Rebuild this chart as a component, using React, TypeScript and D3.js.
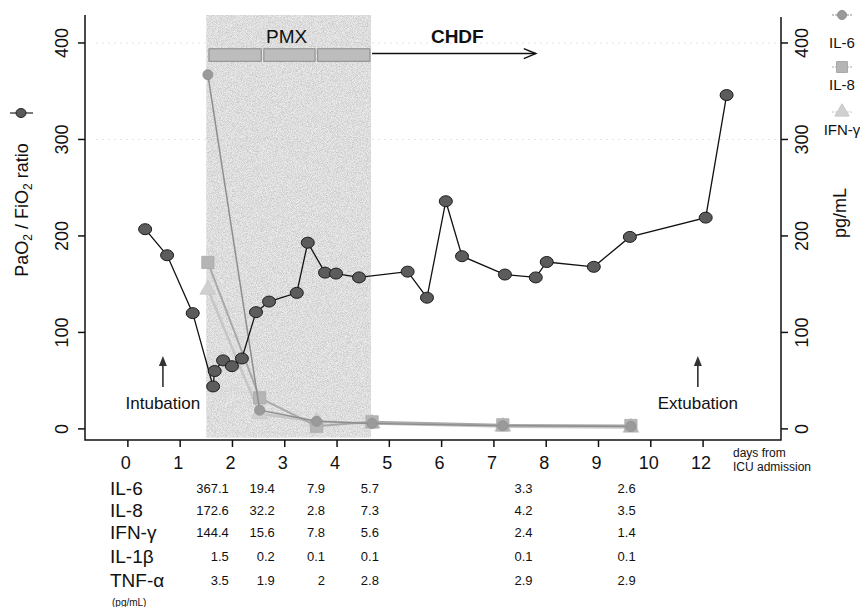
import React, { useEffect, useRef } from 'react';
import * as d3 from 'd3';

// PaO2/FiO2 ratio, days from ICU admission
const pfDays = [0.33, 0.75, 1.24, 1.63, 1.66, 1.82, 1.99, 2.18, 2.45, 2.7, 3.23, 3.44, 3.77, 3.98, 4.42,
  5.35, 5.72, 6.08, 6.39, 7.21, 7.8, 8.01, 8.91, 9.6, 11.05, 11.45];
const pfValues = [207, 180, 120, 44, 60, 71, 65, 73, 121, 132, 141, 193, 162, 161, 157,
  163, 136, 236, 179, 160, 157, 173, 168, 199, 219, 346];

// cytokines (pg/mL)
const cytoDays = [1.53, 2.52, 3.61, 4.67, 7.17, 9.62];
const il6 = [367.1, 19.4, 7.9, 5.7, 3.3, 2.6];
const il8 = [172.6, 32.2, 2.8, 7.3, 4.2, 3.5];
const ifng = [144.4, 15.6, 7.8, 5.6, 2.4, 1.4];
const il1b = [1.5, 0.2, 0.1, 0.1, 0.1, 0.1];
const tnfa = [3.5, 1.9, 2, 2.8, 2.9, 2.9];

const tableRows = ['IL-6', 'IL-8', 'IFN-γ', 'IL-1β', 'TNF-α'];
const tableCols = [1.93, 2.81, 3.77, 4.8, 7.74, 9.71];

const xTicks = [0, 1, 2, 3, 4, 5, 6, 7, 8, 9, 10, 11];
const xTickLabels = ['0', '1', '2', '3', '4', '5', '6', '7', '8', '9', '10', '12'];
const yTicks = [0, 100, 200, 300, 400];
const gridValues = [300, 400];

const pmxRange = [1.5, 4.65];
const pmxSessions = [[1.55, 2.55], [2.6, 3.58], [3.63, 4.63]];
const chdfEnd = 7.8;
const intubationDay = 0.67;
const extubationDay = 10.9;

const FONT = '"Liberation Sans", Arial, sans-serif';

export default function App() {
  const ref = useRef<SVGSVGElement>(null);

  useEffect(() => {
    const svg = d3.select(ref.current);
    svg.selectAll('*').remove();

    const x = d3.scaleLinear().domain([-0.82, 12.49]).range([85, 781]);
    const y = d3.scaleLinear().domain([-11.5, 429]).range([440, 15]);

    const defs = svg.append('defs');
    const f = defs.append('filter').attr('id', 'stipple').attr('x', 0).attr('y', 0).attr('width', 1).attr('height', 1);
    f.append('feTurbulence').attr('type', 'fractalNoise').attr('baseFrequency', 1.2).attr('numOctaves', 1).attr('seed', 3).attr('result', 'n');
    f.append('feColorMatrix').attr('in', 'n').attr('type', 'matrix')
      .attr('values', '0 0 0 0 0.55  0 0 0 0 0.55  0 0 0 0 0.55  0 0 0 -2.2 1.45').attr('result', 'dots');
    f.append('feComposite').attr('in', 'dots').attr('in2', 'SourceGraphic').attr('operator', 'in');

    // PMX shaded period
    svg.append('rect')
      .attr('x', x(pmxRange[0])).attr('width', x(pmxRange[1]) - x(pmxRange[0]))
      .attr('y', y(429)).attr('height', y(-9) - y(429))
      .attr('fill', '#ebebeb');
    svg.append('rect')
      .attr('x', x(pmxRange[0])).attr('width', x(pmxRange[1]) - x(pmxRange[0]))
      .attr('y', y(429)).attr('height', y(-9) - y(429))
      .attr('fill', '#999').attr('filter', 'url(#stipple)');

    // faint gridlines
    svg.selectAll('.grid').data(gridValues).enter().append('line')
      .attr('x1', x(-0.6)).attr('x2', x(12.4))
      .attr('y1', (d) => y(d)).attr('y2', (d) => y(d))
      .attr('stroke', '#c8c8c8').attr('stroke-width', 1).attr('stroke-dasharray', '1,5');

    // PMX sessions + CHDF arrow
    svg.selectAll('.pmx').data(pmxSessions).enter().append('rect')
      .attr('x', (d) => x(d[0])).attr('width', (d) => x(d[1]) - x(d[0]))
      .attr('y', y(394)).attr('height', y(381) - y(394))
      .attr('fill', '#bdbdbd').attr('stroke', '#8a8a8a').attr('stroke-width', 1);
    svg.append('line')
      .attr('x1', x(pmxRange[1]) + 1).attr('x2', x(chdfEnd))
      .attr('y1', y(389)).attr('y2', y(389))
      .attr('stroke', '#111').attr('stroke-width', 1.5);
    svg.append('path')
      .attr('d', `M${x(chdfEnd) - 12},${y(389) - 5} L${x(chdfEnd)},${y(389)} L${x(chdfEnd) - 12},${y(389) + 5}`)
      .attr('fill', 'none').attr('stroke', '#111').attr('stroke-width', 1.5);
    svg.append('text').text('PMX')
      .attr('x', x((pmxRange[0] + pmxRange[1]) / 2) - 2).attr('y', y(398) - 2)
      .attr('text-anchor', 'middle').attr('font-size', 19).attr('font-family', FONT).attr('fill', '#111');
    svg.append('text').text('CHDF')
      .attr('x', x(6.3)).attr('y', y(398) - 2)
      .attr('text-anchor', 'middle').attr('font-size', 19).attr('font-weight', 'bold').attr('font-family', FONT).attr('fill', '#111');

    // frame
    svg.append('path')
      .attr('d', `M${x(-0.82)},${y(429)} V${y(-11.5)} H${x(12.49)} V${y(427)}`)
      .attr('fill', 'none').attr('stroke', '#111').attr('stroke-width', 1.5);

    // x axis
    const xg = svg.append('g');
    xTicks.forEach((t, i) => {
      xg.append('line').attr('x1', x(t)).attr('x2', x(t)).attr('y1', y(-11.5)).attr('y2', y(-11.5) + 7)
        .attr('stroke', '#111').attr('stroke-width', 1.5);
      xg.append('text').text(xTickLabels[i]).attr('x', x(t) - 2).attr('y', 469)
        .attr('text-anchor', 'middle').attr('font-size', 18).attr('font-family', FONT).attr('fill', '#111');
    });
    svg.append('text').attr('font-size', 12).attr('font-family', FONT).attr('fill', '#111')
      .selectAll('tspan').data(['days from', 'ICU admission']).enter().append('tspan')
      .attr('x', 733).attr('y', (d, i) => 457 + i * 14).text((d) => d);

    // y axes
    yTicks.forEach((t) => {
      svg.append('line').attr('x1', x(-0.82) - 7).attr('x2', x(-0.82)).attr('y1', y(t)).attr('y2', y(t))
        .attr('stroke', '#111').attr('stroke-width', 1.5);
      svg.append('text').text(t).attr('transform', `translate(68,${y(t)}) rotate(-90)`)
        .attr('text-anchor', 'middle').attr('font-size', 18).attr('font-family', FONT).attr('fill', '#111');
      svg.append('line').attr('x1', x(12.49)).attr('x2', x(12.49) + 7).attr('y1', y(t)).attr('y2', y(t))
        .attr('stroke', '#111').attr('stroke-width', 1.5);
      svg.append('text').text(t).attr('transform', `translate(808,${y(t)}) rotate(-90)`)
        .attr('text-anchor', 'middle').attr('font-size', 18).attr('font-family', FONT).attr('fill', '#111');
    });

    // left axis title
    const lt = svg.append('text').attr('transform', 'translate(28,210) rotate(-90)')
      .attr('text-anchor', 'middle').attr('font-size', 18).attr('font-family', FONT).attr('fill', '#111');
    lt.append('tspan').text('PaO');
    lt.append('tspan').text('2').attr('font-size', 12).attr('dy', 4);
    lt.append('tspan').text(' / FiO').attr('dy', -4);
    lt.append('tspan').text('2').attr('font-size', 12).attr('dy', 4);
    lt.append('tspan').text(' ratio').attr('dy', -4);
    svg.append('line').attr('x1', 10).attr('x2', 33).attr('y1', 113).attr('y2', 113).attr('stroke', '#222').attr('stroke-width', 1.2);
    svg.append('ellipse').attr('cx', 21).attr('cy', 113).attr('rx', 5).attr('ry', 4.5)
      .attr('fill', '#5a5a5a').attr('stroke', '#222');

    svg.append('text').text('pg/mL').attr('transform', 'translate(846,213) rotate(-90)')
      .attr('text-anchor', 'middle').attr('font-size', 18).attr('font-family', FONT).attr('fill', '#111');

    // cytokine series
    const series = [
      { name: 'IL-6', values: il6, line: '#8e8e8e', fill: '#9a9a9a', width: 1.5, shape: d3.symbolCircle, size: 80 },
      { name: 'IL-8', values: il8, line: '#a9a9a9', fill: '#b5b5b5', width: 2, shape: d3.symbolSquare, size: 150 },
      { name: 'IFN-γ', values: ifng, line: '#c6c6c6', fill: '#d0d0d0', width: 2.5, shape: d3.symbolTriangle, size: 110 },
    ];
    const line = d3.line<number>().x((d, i) => x(cytoDays[i])).y((d) => y(d));
    series.slice().reverse().forEach((s) => {
      svg.append('path').datum(s.values).attr('d', line)
        .attr('fill', 'none').attr('stroke', s.line).attr('stroke-width', s.width);
      svg.selectAll(null).data(s.values).enter().append('path')
        .attr('d', d3.symbol().type(s.shape).size(s.size))
        .attr('transform', (d, i) => `translate(${x(cytoDays[i])},${y(d)})`)
        .attr('fill', s.fill).attr('stroke', s.line).attr('stroke-width', 0.8);
    });

    // legend (right)
    const legSym = [15, 67, 112];
    const legText = [48, 90, 135];
    series.forEach((s, i) => {
      const ly = legSym[i];
      svg.append('line').attr('x1', 832).attr('x2', 852).attr('y1', ly).attr('y2', ly)
        .attr('stroke', s.line).attr('stroke-width', 1.2).attr('stroke-dasharray', '2,1');
      svg.append('path').attr('d', d3.symbol().type(s.shape).size(s.size * 0.8))
        .attr('transform', `translate(842,${ly})`).attr('fill', s.fill).attr('stroke', s.line);
      svg.append('text').text(s.name).attr('x', 842).attr('y', legText[i])
        .attr('text-anchor', 'middle').attr('font-size', 15).attr('font-family', FONT).attr('fill', '#111');
    });

    // PaO2/FiO2 line
    const pfLine = d3.line<number>().x((d, i) => x(pfDays[i])).y((d) => y(d));
    svg.append('path').datum(pfValues).attr('d', pfLine)
      .attr('fill', 'none').attr('stroke', '#111').attr('stroke-width', 1.3);
    svg.selectAll('.pf').data(pfValues).enter().append('ellipse')
      .attr('cx', (d, i) => x(pfDays[i])).attr('cy', (d) => y(d))
      .attr('rx', 6.5).attr('ry', 5.5)
      .attr('fill', '#5c5c5c').attr('stroke', '#1a1a1a').attr('stroke-width', 1);

    // intubation / extubation
    [[intubationDay, 'Intubation'], [extubationDay, 'Extubation']].forEach(([d, label]) => {
      const ax = x(d as number);
      svg.append('line').attr('x1', ax).attr('x2', ax).attr('y1', 387).attr('y2', 364)
        .attr('stroke', '#222').attr('stroke-width', 1.5);
      svg.append('path').attr('d', `M${ax - 4},${366} L${ax},${356} L${ax + 4},${366} Z`).attr('fill', '#333');
      svg.append('text').text(label as string).attr('x', ax).attr('y', 409)
        .attr('text-anchor', 'middle').attr('font-size', 17).attr('font-family', FONT).attr('fill', '#111');
    });

    // table beneath the axis
    const rowVals = [il6, il8, ifng, il1b, tnfa];
    const rowY = [494, 516, 538, 562, 586];
    tableRows.forEach((r, ri) => {
      svg.append('text').text(r).attr('x', 110).attr('y', rowY[ri] + 1)
        .attr('font-size', 19).attr('font-family', FONT).attr('fill', '#111');
      rowVals[ri].forEach((v, ci) => {
        svg.append('text').text(String(v)).attr('x', x(tableCols[ci])).attr('y', rowY[ri] - 1)
          .attr('text-anchor', 'end').attr('font-size', 13).attr('font-family', FONT).attr('fill', '#111');
      });
    });
    svg.append('text').text('(pg/mL)').attr('x', 112).attr('y', 606)
      .attr('font-size', 10).attr('font-family', FONT).attr('fill', '#111');
  }, []);

  return (
    <svg ref={ref} width={860} height={607} style={{ position: 'absolute', left: 0, top: 0, background: '#fff' }} />
  );
}
